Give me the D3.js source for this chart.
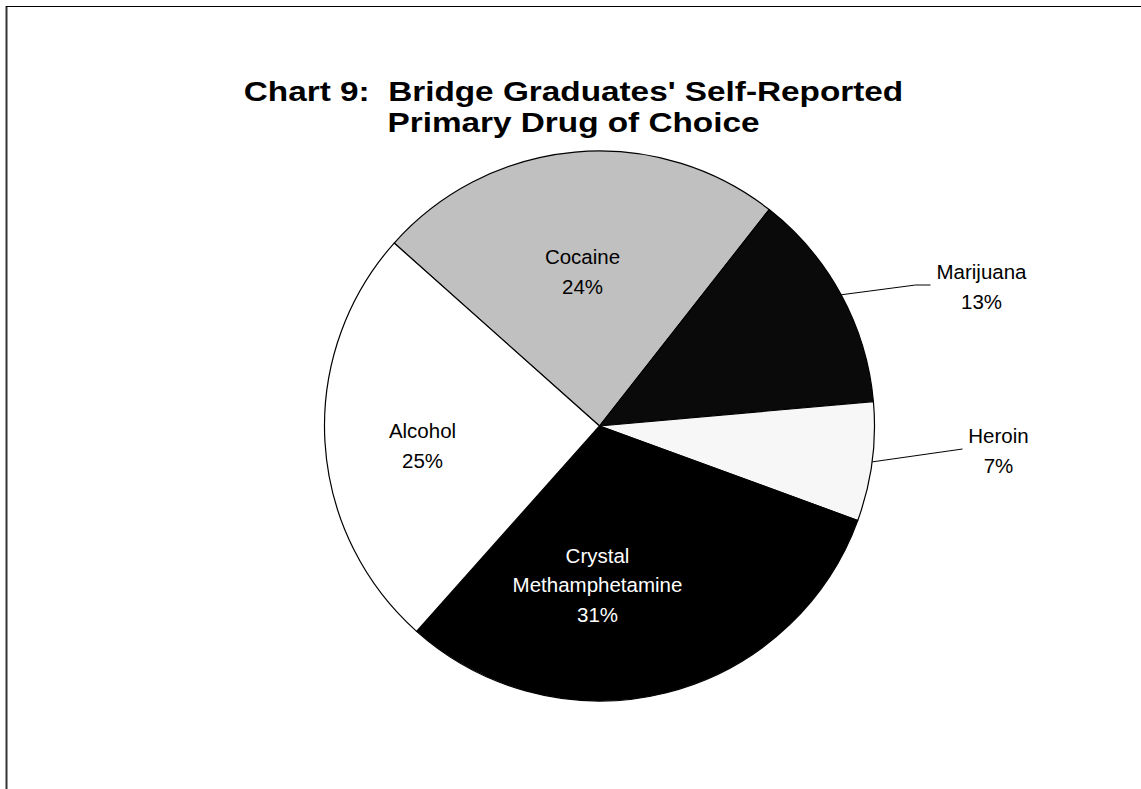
<!DOCTYPE html>
<html>
<head>
<meta charset="utf-8">
<script src="https://cdn.jsdelivr.net/npm/d3@7"></script>
<style>
  html, body { margin: 0; padding: 0; background: #ffffff; }
  svg { display: block; }
  text { font-family: "Liberation Sans", Arial, sans-serif; fill: #000; white-space: pre; }
</style>
</head>
<body>
<svg id="chart" width="1141" height="789"></svg>
<script>
// Primary drug of choice, share of graduates (%)
const categories = ["Cocaine", "Marijuana", "Heroin", "Crystal Methamphetamine", "Alcohol"];
const values = [24, 13, 7, 31, 25];
const labelLines = [["Cocaine"], ["Marijuana"], ["Heroin"], ["Crystal", "Methamphetamine"], ["Alcohol"]];
const titleLines = ["Chart 9:  Bridge Graduates' Self-Reported", "Primary Drug of Choice"];

// Styling and layout
const fills = ["#c0c0c0", "#0a0a0a", "#f7f7f7", "#000000", "#ffffff"];
const labelColors = ["#000", "#000", "#000", "#fff", "#000"];
const cx = 599.5, cy = 426, radius = 275;
const startDeg = -48.3;
// label block centres, offset from the pie centre (px)
const labelLayout = [
  { dx: -17, dy: -154 },
  { dx: 382, dy: -139 },
  { dx: 399, dy: 25 },
  { dx: -2, dy: 159 },
  { dx: -177, dy: 20 }
];
const leaderEnds = [null, { bend: [316, -141], end: [331, -141] }, { bend: [363, 23], end: [363, 23] }, null, null];

const svg = d3.select("#chart");

// frame
svg.append("line").attr("x1", 6.5).attr("y1", 6).attr("x2", 6.5).attr("y2", 789)
  .attr("stroke", "#333").attr("stroke-width", 2);
svg.append("line").attr("x1", 6).attr("y1", 6.5).attr("x2", 1141).attr("y2", 6.5)
  .attr("stroke", "#000").attr("stroke-width", 1);

// title, two centred lines
const title = svg.append("text")
  .attr("font-weight", "bold")
  .attr("font-size", "28px")
  .attr("text-anchor", "middle")
  .attr("transform", "translate(573.5,0) scale(1.19,1)");
title.append("tspan").attr("x", 0).attr("y", 101).text(titleLines[0]);
title.append("tspan").attr("x", 0).attr("y", 132).text(titleLines[1]);

const pie = d3.pie().sort(null).value(d => d)
  .startAngle(startDeg * Math.PI / 180)
  .endAngle((startDeg + 360) * Math.PI / 180);
const arcs = pie(values);
const arc = d3.arc().innerRadius(0).outerRadius(radius);

const g = svg.append("g").attr("transform", `translate(${cx},${cy})`);

g.selectAll("path.slice")
  .data(arcs)
  .join("path")
  .attr("class", "slice")
  .attr("d", arc)
  .attr("fill", (d, i) => fills[i])
  .attr("stroke", "#000")
  .attr("stroke-width", 1.2)
  .attr("stroke-linejoin", "round");

// leader lines for the narrow slices
arcs.forEach((d, i) => {
  const le = leaderEnds[i];
  if (!le) return;
  const a = (d.startAngle + d.endAngle) / 2;
  const sx = Math.sin(a) * radius, sy = -Math.cos(a) * radius;
  g.append("polyline")
    .attr("points", [[sx, sy], le.bend, le.end].map(p => p.join(",")).join(" "))
    .attr("fill", "none")
    .attr("stroke", "#000")
    .attr("stroke-width", 1);
});

// slice labels: name lines followed by the percentage
const lineH = 29.5;
arcs.forEach((d, i) => {
  const lay = labelLayout[i];
  const lines = labelLines[i].concat([values[i] + "%"]);
  const t = g.append("text")
    .attr("text-anchor", "middle")
    .attr("font-size", "20.5px")
    .style("fill", labelColors[i]);
  const top = lay.dy - (lines.length - 1) * lineH / 2;
  lines.forEach((s, k) => {
    t.append("tspan")
      .attr("x", lay.dx)
      .attr("y", top + k * lineH + 7)
      .text(s);
  });
});
</script>
</body>
</html>
